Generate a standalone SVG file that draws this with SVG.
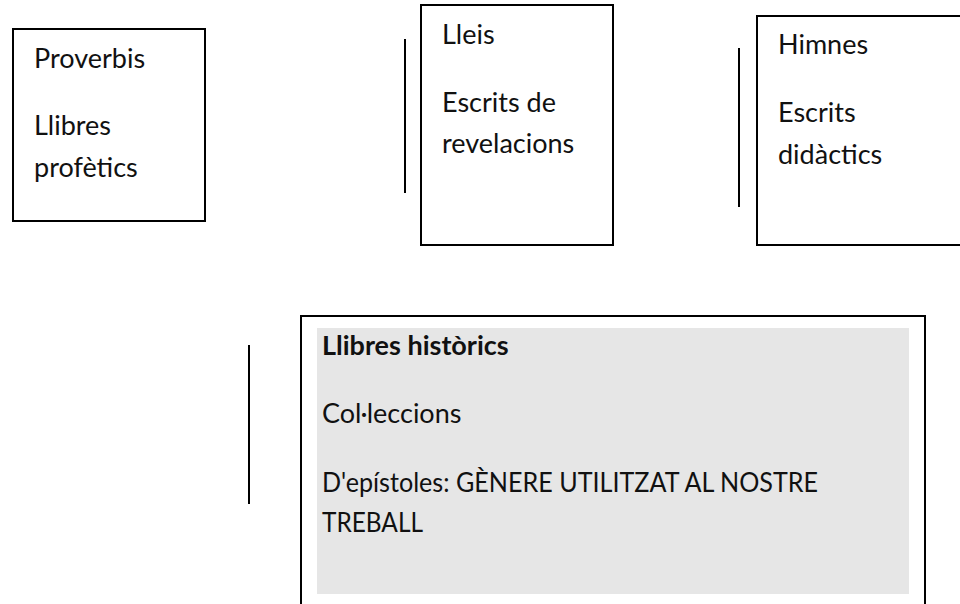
<svg xmlns="http://www.w3.org/2000/svg" width="960" height="604" viewBox="0 0 960 604">
<style>
.box{fill:#fff;stroke:#000;stroke-width:2}
.t{font-family:Lato,"Open Sans","Liberation Sans",sans-serif;font-size:27px;fill:#111}
.b{font-weight:bold}
.ln{stroke:#000;stroke-width:2}
</style>
<rect width="960" height="604" fill="#fff"/>
<g id="connectors">
<line class="ln" x1="405" y1="39" x2="405" y2="193"/>
<line class="ln" x1="739" y1="48" x2="739" y2="207"/>
<line class="ln" x1="249" y1="345" x2="249" y2="504"/>
</g>
<g id="node-proverbis">
<rect class="box" x="13" y="29" width="192" height="192"/>
<text class="t" x="34" y="68">Proverbis</text>
<text class="t" x="34" y="135">Llibres</text>
<text class="t" x="34" y="177">profètics</text>
</g>
<g id="node-lleis">
<rect class="box" x="421" y="5" width="192" height="240"/>
<text class="t" x="442" y="44">Lleis</text>
<text class="t" x="442" y="112">Escrits de</text>
<text class="t" x="442" y="153">revelacions</text>
</g>
<g id="node-himnes">
<rect class="box" x="757" y="16" width="220" height="229"/>
<text class="t" x="778" y="54">Himnes</text>
<text class="t" x="778" y="122">Escrits</text>
<text class="t" x="778" y="164">didàctics</text>
</g>
<g id="node-historics">
<rect class="box" x="301" y="316" width="624" height="300"/>
<rect x="317" y="328" width="592" height="266" fill="#e6e6e6"/>
<text class="t b" x="322" y="355">Llibres històrics</text>
<text class="t" x="322" y="423">Col·leccions</text>
<text class="t" x="322" y="492" textLength="496" lengthAdjust="spacingAndGlyphs">D'epístoles: GÈNERE UTILITZAT AL NOSTRE</text>
<text class="t" x="322" y="532" textLength="101" lengthAdjust="spacingAndGlyphs">TREBALL</text>
</g>
</svg>
